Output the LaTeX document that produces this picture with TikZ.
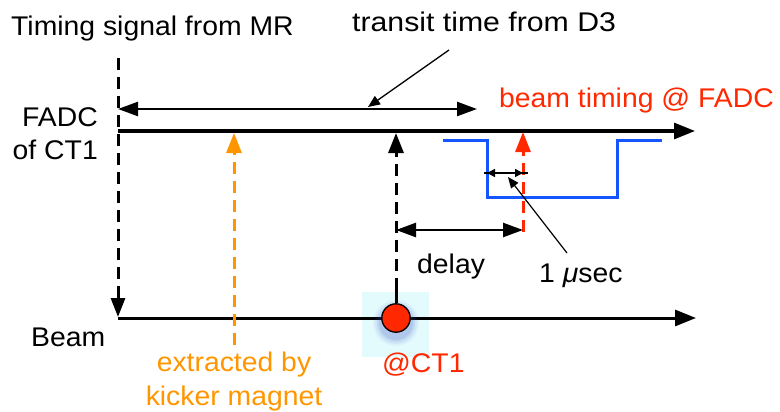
\documentclass[tikz,border=0pt]{standalone}
\usepackage{fontspec}
\setmainfont[FakeStretch=1.05]{Liberation Sans}
\usetikzlibrary{arrows.meta}
\definecolor{kickorange}{RGB}{255,150,0}
\definecolor{timered}{RGB}{255,40,0}
\definecolor{pulseblue}{RGB}{20,85,255}
\definecolor{ctcyan}{RGB}{228,251,253}
\definecolor{glowblue}{RGB}{60,80,200}

\begin{document}
\begin{tikzpicture}[x=1pt,y=-1pt,
  lbl/.style={inner sep=0pt, font=\fontsize{27}{32}\selectfont},
  bigtip/.style={-{Triangle[length=21pt,width=16pt]}},
  axisline/.style={line width=3pt, bigtip},
  dashline/.style={line width=3pt, dash pattern=on 12pt off 7pt},
  uptip/.style={-{Triangle[length=20pt,width=15pt]}},
  spanarrow/.style={line width=2.5pt, {Triangle[length=20pt,width=14pt]}-{Triangle[length=20pt,width=14pt]}},
  pointer/.style={line width=1.3pt, -{Triangle[length=12pt,width=10pt]}},
  pulse/.style={line width=3pt, draw=pulseblue},
]
\useasboundingbox (0,0) rectangle (780,412);

% highlight behind the CT1 marker
\fill[ctcyan] (362,292) rectangle (429,357);

% reference points
\coordinate (mrTop) at (118,58);
\coordinate (fadcStart) at (118,131);
\coordinate (fadcEnd) at (695,131);
\coordinate (beamStart) at (118,318);
\coordinate (beamEnd) at (696,318);
\coordinate (mrTip) at (118,317);
\coordinate (transL) at (118,109);
\coordinate (transR) at (477,109);
\coordinate (transFrom) at (449,50);
\coordinate (transTo) at (368,107);
\coordinate (kickLow) at (234,345);
\coordinate (kickTip) at (234,133);
\coordinate (ctTip) at (396,133);
\coordinate (redLow) at (523,232);
\coordinate (redTip) at (523,132);
\coordinate (delayL) at (396,230);
\coordinate (delayR) at (523,230);
\coordinate (usL) at (487,173);
\coordinate (usR) at (523,173);
\coordinate (usLx) at (484,173);
\coordinate (usRx) at (528,173);
\coordinate (usFrom) at (567,253);
\coordinate (usTo) at (508,177);

% time axes
\draw[axisline] (fadcStart) -- (fadcEnd);
\draw[axisline] (beamStart) -- (beamEnd);

% timing signal from MR
\draw[dashline, -{Triangle[length=19pt,width=14pt]}] (mrTop) -- (mrTip);

% transit time span and its pointer
\draw[spanarrow] (transL) -- (transR);
\draw[pointer] (transFrom) -- (transTo);

% kicker extraction
\draw[dashline, draw=kickorange, uptip, kickorange] (kickLow) -- (kickTip);

% CT1 marker and its signal
\foreach \r/\o in {23/0.05,21/0.07,19/0.09,17/0.12}
  \fill[glowblue, opacity=\o] (396,323) circle (\r);
\node[circle, draw=black, line width=1.3pt, fill=timered, minimum size=28.4pt, inner sep=0pt] (ct) at (396,318) {};
\draw[line width=3pt] (ct.north) -- (396,290);
\draw[dashline, uptip] (396,290) -- (ctTip);

% FADC pulse
\draw[pulse] (443,140) -- (487,140) -- (487,197) -- (617,197) -- (617,140) -- (662,140);

% beam timing at FADC
\draw[dashline, draw=timered, uptip, timered] (redLow) -- (redTip);

% delay span
\draw[spanarrow] (delayL) -- (delayR);

% 1 usec span
\draw[line width=1.3pt] (usLx) -- (usRx);
\draw[line width=1.5pt, {Triangle[length=8pt,width=8pt]}-{Triangle[length=8pt,width=8pt]}] (usL) -- (usR);
\draw[pointer, line width=1.2pt, -{Triangle[length=11pt,width=9pt]}] (usFrom) -- (usTo);

% labels
\node[lbl, anchor=base west] (tsig) at (11,36) {Timing signal from MR};
\node[lbl, anchor=base west] (transit) at (352,32) {\addfontfeature{FakeStretch=1.12}transit time from D3};
\node[lbl, anchor=base west, text=timered] (btime) at (499,108) {beam timing @ FADC};
\node[lbl, anchor=base east] (fadc) at (98,126) {FADC};
\node[lbl, anchor=base east] (ofct) at (98,159) {of CT1};
\node[lbl, anchor=base west] (beam) at (31,346) {Beam};
\node[lbl, anchor=base, text=kickorange] (extr) at (234,371) {extracted by};
\node[lbl, anchor=base, text=kickorange] (kick) at (234,405) {kicker magnet};
\node[lbl, anchor=base west, text=timered] (atct) at (382,372) {@CT1};
\node[lbl, anchor=base west] (delay) at (417,273) {delay};
\node[lbl, anchor=base west] (usec) at (539,282) {1 {\itshape μ}sec};
\end{tikzpicture}
\end{document}
